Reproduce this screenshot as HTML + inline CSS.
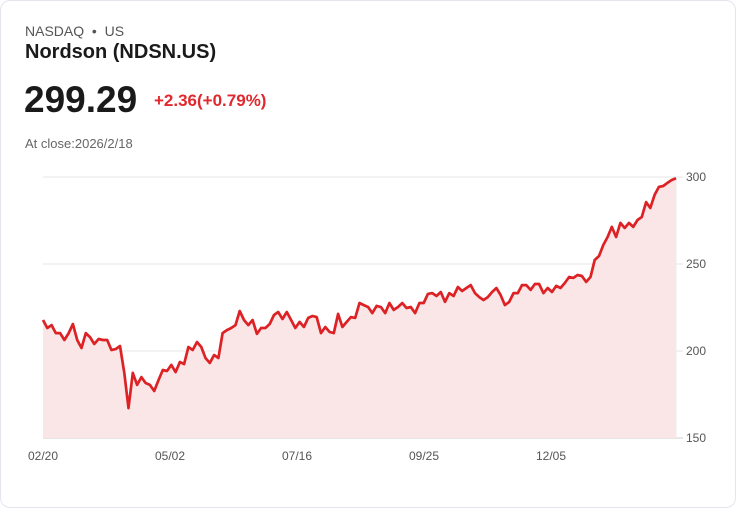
<!DOCTYPE html>
<html><head><meta charset="utf-8">
<style>
body{margin:0;background:#fff;font-family:"Liberation Sans",sans-serif;}
.card{position:absolute;left:0;top:0;width:734px;height:506px;border:1px solid #e3e6ee;border-radius:10px;background:#fff;}
.t{position:absolute;white-space:nowrap;}
</style></head><body>
<div class="card"></div>
<div class="t" style="left:25px;top:23px;font-size:14px;color:#555;">NASDAQ &nbsp;•&nbsp; US</div>
<div class="t" style="left:25px;top:41px;font-size:20px;font-weight:bold;color:#1a1a1a;">Nordson (NDSN.US)</div>
<div class="t" style="left:24px;top:79px;font-size:37px;font-weight:bold;color:#1a1a1a;">299.29</div>
<div class="t" style="left:154px;top:91px;font-size:17px;font-weight:600;color:#e0282e;">+2.36(+0.79%)</div>
<div class="t" style="left:25px;top:136px;font-size:13px;color:#666;">At close:2026/2/18</div>
<svg id="chart" width="736" height="508" style="position:absolute;left:0;top:0"></svg>
<script>
const prices=[217.8,213.2,214.9,210.3,210.3,206.3,210.3,215.5,206.3,201.7,210.3,208.0,204.0,206.9,206.3,206.3,200.6,201.1,202.9,187.4,167.2,187.4,180.5,185.0,181.6,180.5,177.0,183.3,189.1,188.5,192.0,187.9,193.7,192.5,202.3,200.6,205.2,202.3,196.0,193.1,197.7,196.0,210.3,212.0,213.2,214.9,223.0,217.8,214.9,217.8,209.8,213.2,213.2,215.5,220.7,222.4,218.4,222.4,217.8,213.2,216.7,213.8,219.0,220.1,219.5,210.3,213.8,210.9,210.3,221.3,213.8,216.7,219.5,219.0,227.6,226.4,225.3,221.8,225.9,225.3,221.8,227.6,223.6,225.3,227.6,224.7,225.3,221.8,227.6,227.6,232.8,233.3,231.6,233.9,228.2,233.3,231.6,236.8,234.5,236.2,237.9,233.3,231.0,229.3,231.0,233.9,236.2,232.2,226.4,228.2,233.3,233.3,237.9,237.9,235.1,238.5,238.5,233.3,236.2,233.9,237.4,236.2,239.1,242.5,242.0,243.7,243.1,239.7,242.5,252.3,254.6,260.9,265.5,271.3,265.5,273.6,270.7,273.6,271.3,275.3,277.0,285.6,282.2,289.7,294.3,294.8,296.6,298.3,299.3];
const yTicks=[150,200,250,300];
const xLabels=["02/20","05/02","07/16","09/25","12/05"];
const X0=43,X1=676,Y0=438,Y1=177,VMIN=150,VMAX=300;
const xs=i=>X0+(X1-X0)*i/(prices.length-1);
const ys=v=>Y0-(v-VMIN)/(VMAX-VMIN)*(Y0-Y1);
const svg=document.getElementById('chart');
const NS='http://www.w3.org/2000/svg';
function mk(tag,attrs){const e=document.createElementNS(NS,tag);for(const k in attrs)e.setAttribute(k,attrs[k]);svg.appendChild(e);return e;}
yTicks.forEach(v=>{
 const g=mk('line',{x1:X0,x2:683,y1:ys(v),y2:ys(v),stroke:v===VMIN?'#ccc':'#e4e4e4','stroke-width':1});
 
 
 const t=mk('text',{x:686,y:ys(v)+4,'font-size':12,fill:'#555','font-family':'Liberation Sans, sans-serif'});
 t.textContent=v;
 
 
});
const vl=mk('line',{x1:X1,x2:X1,y1:Y1,y2:Y0,stroke:'#eee','stroke-width':1});


xLabels.forEach((l,k)=>{
 const t=mk('text',{x:X0+127*k,y:460,'font-size':12,fill:'#555','text-anchor':'middle','font-family':'Liberation Sans, sans-serif'});
 t.textContent=l;
 
 
});
let d=prices.map((v,i)=>(i?'L':'M')+xs(i).toFixed(1)+','+ys(v).toFixed(1)).join('');
const area=mk('path',{d:d+'L'+X1+','+Y0+'L'+X0+','+Y0+'Z',fill:'#fae6e6'});


const line=mk('path',{d:d,fill:'none',stroke:'#dd2226','stroke-width':2.7,'stroke-linejoin':'round'});


</script>
</body></html>
